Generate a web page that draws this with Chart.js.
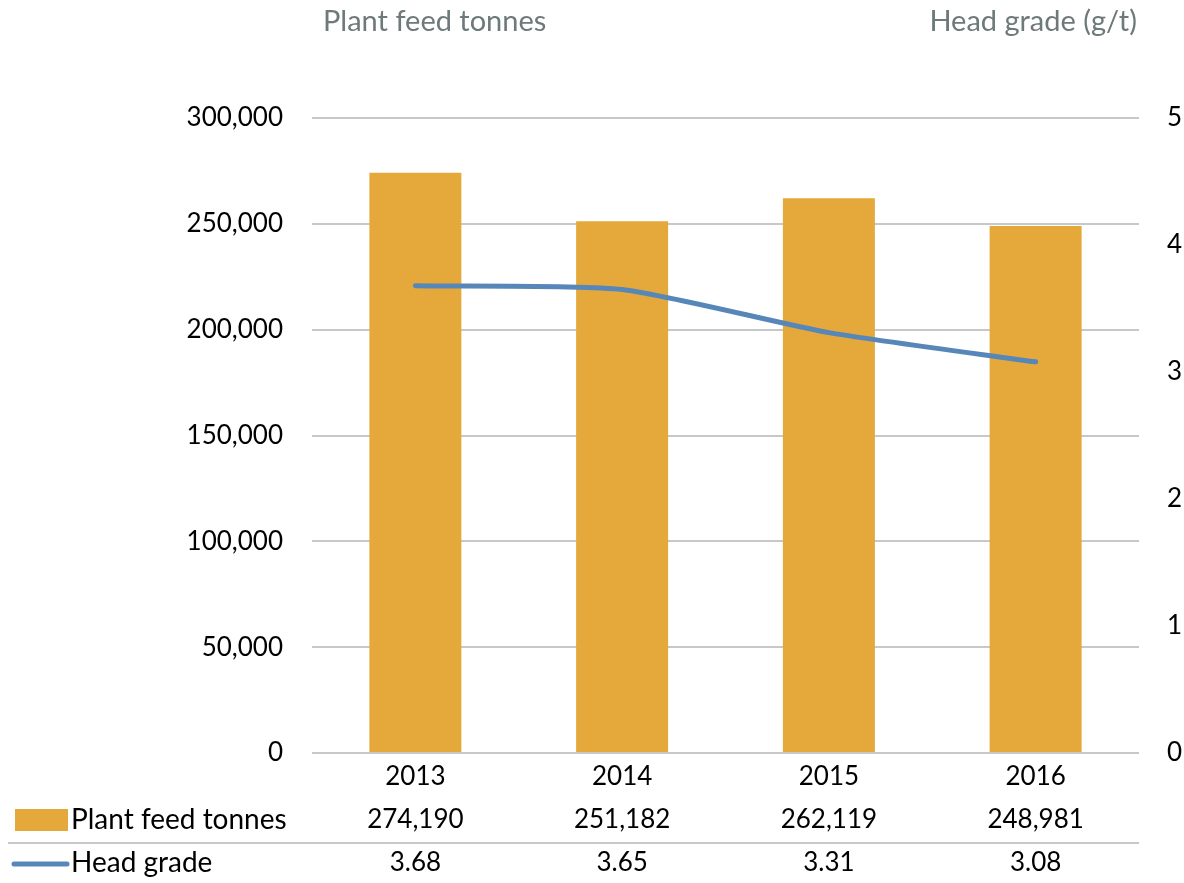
<!DOCTYPE html>
<html>
<head>
<meta charset="utf-8">
<script src="https://cdn.jsdelivr.net/npm/chart.js@4.4.1/dist/chart.umd.min.js"></script>
<style>
  html, body { margin: 0; padding: 0; background: #fff; }
  #wrap { width: 1184px; height: 883px; position: relative; }
</style>
</head>
<body>
<div id="wrap"><canvas id="chart"></canvas></div>
<script>
// data
const years = ['2013', '2014', '2015', '2016'];
const plantFeedTonnes = [274190, 251182, 262119, 248981];
const headGrade = [3.68, 3.65, 3.31, 3.08];
const tonnesTicks = [0, 50000, 100000, 150000, 200000, 250000, 300000];
const gradeTicks = [0, 1, 2, 3, 4, 5];

const barColor = '#E4A93A';
const lineColor = '#5787B9';
const fontName = 'Lato, "Open Sans", sans-serif';

// data table under the x axis + axis titles
const tablePlugin = {
  id: 'dataTable',
  afterDraw(chart) {
    const ctx = chart.ctx;
    const xs = chart.scales.x;
    const area = chart.chartArea;
    ctx.save();

    // axis titles
    ctx.fillStyle = '#6E7979';
    ctx.font = '29px ' + fontName;
    ctx.textBaseline = 'middle';
    ctx.textAlign = 'left';
    ctx.fillText('Plant feed tonnes', 323, 22);
    ctx.textAlign = 'right';
    ctx.fillText('Head grade (g/t)', 1137, 22);

    // separator between rows
    ctx.strokeStyle = '#C8C8C8';
    ctx.lineWidth = 2;
    ctx.beginPath();
    ctx.moveTo(8, 843);
    ctx.lineTo(area.right, 843);
    ctx.stroke();

    // legend keys
    ctx.fillStyle = barColor;
    ctx.fillRect(15, 809, 53, 22);
    ctx.strokeStyle = lineColor;
    ctx.lineWidth = 5;
    ctx.lineCap = 'round';
    ctx.beginPath();
    ctx.moveTo(14, 864);
    ctx.lineTo(67, 864);
    ctx.stroke();

    ctx.fillStyle = '#000';
    ctx.font = '28px ' + fontName;
    ctx.textAlign = 'left';
    ctx.fillText('Plant feed tonnes', 71, 820);
    ctx.fillText('Head grade', 71, 863);

    ctx.font = '26px ' + fontName;
    ctx.textAlign = 'center';
    years.forEach((y, i) => {
      const x = xs.getPixelForValue(i);
      ctx.fillText(plantFeedTonnes[i].toLocaleString('en-US'), x, 820);
      ctx.fillText(headGrade[i].toFixed(2), x, 863);
    });
    ctx.restore();
  }
};

new Chart(document.getElementById('chart'), {
  data: {
    labels: years,
    datasets: [
      {
        type: 'line',
        label: 'Head grade',
        data: headGrade,
        yAxisID: 'y1',
        borderColor: lineColor,
        borderWidth: 5,
        borderCapStyle: 'round',
        tension: 0.2,
        pointRadius: 0,
        order: 0
      },
      {
        type: 'bar',
        label: 'Plant feed tonnes',
        data: plantFeedTonnes,
        yAxisID: 'y',
        backgroundColor: barColor,
        barPercentage: 0.445,
        categoryPercentage: 1,
        order: 1
      }
    ]
  },
  options: {
    responsive: true,
    maintainAspectRatio: false,
    animation: false,
    layout: { padding: { top: 118, left: 0, right: 0, bottom: 0 } },
    plugins: {
      legend: { display: false },
      tooltip: { enabled: false }
    },
    scales: {
      x: {
        grid: { display: false, drawTicks: false },
        border: { display: false },
        ticks: {
          color: '#000',
          font: { family: fontName, size: 26 },
          padding: 8
        },
        afterFit(scale) { scale.height = 130; }
      },
      y: {
        position: 'left',
        min: 0,
        max: 300000,
        afterBuildTicks(scale) { scale.ticks = tonnesTicks.map(v => ({ value: v })); },
        grid: { color: '#C8C8C8', lineWidth: 2, drawTicks: false },
        border: { display: false },
        ticks: {
          color: '#000',
          font: { family: fontName, size: 26 },
          padding: 29,
          callback: v => v.toLocaleString('en-US')
        },
        afterFit(scale) { scale.width = 312; }
      },
      y1: {
        position: 'right',
        min: 0,
        max: 5,
        afterBuildTicks(scale) { scale.ticks = gradeTicks.map(v => ({ value: v })); },
        grid: { display: false, drawTicks: false },
        border: { display: false },
        ticks: {
          color: '#000',
          font: { family: fontName, size: 26 },
          padding: 28
        },
        afterFit(scale) { scale.width = 45; }
      }
    }
  },
  plugins: [tablePlugin]
});
</script>
</body>
</html>
